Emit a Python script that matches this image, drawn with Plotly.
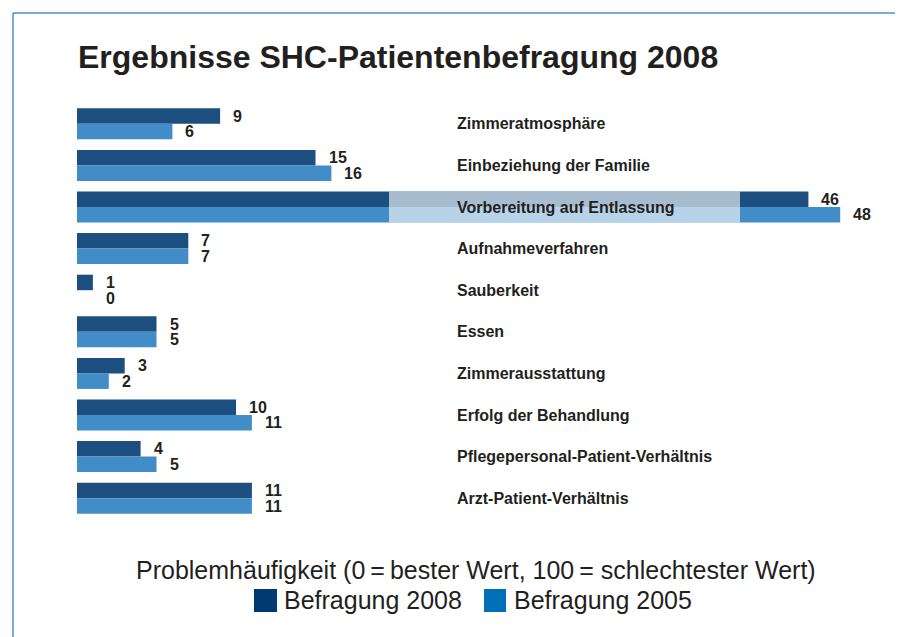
import plotly.graph_objects as go

categories = [
    "Zimmeratmosphäre",
    "Einbeziehung der Familie",
    "Vorbereitung auf Entlassung",
    "Aufnahmeverfahren",
    "Sauberkeit",
    "Essen",
    "Zimmerausstattung",
    "Erfolg der Behandlung",
    "Pflegepersonal-Patient-Verhältnis",
    "Arzt-Patient-Verhältnis",
]
values_2008 = [9, 15, 46, 7, 1, 5, 3, 10, 4, 11]
values_2005 = [6, 16, 48, 7, 0, 5, 2, 11, 5, 11]

title_text = "Ergebnisse SHC-Patientenbefragung 2008"
axis_note = "Problemhäufigkeit (0\u2009=\u2009bester Wert, 100\u2009= schlechtester Wert)"
series_names = ["Befragung 2008", "Befragung 2005"]

BAR_DARK = "#1c4f80"
BAR_LIGHT = "#428cc8"
LEG_DARK = "#003a70"
LEG_LIGHT = "#0070b8"
TXT = "#231f20"
FONT = "Liberation Sans, Arial, Helvetica, sans-serif"

# page body has an 8px margin, so the figure is drawn 8px in from the window corner
OFF = 8
W, H = 903 - OFF, 637 - OFF
ML, MR, MT, MB = 77 - OFF, 31, 103 - OFF, 118
PW, PH = 795, 416


def px(x):  # window pixel -> paper x
    return (x - 77) / PW


def py(y):  # window pixel -> paper y
    return (519 - y) / PH


fig = go.Figure()
fig.add_trace(go.Bar(y=categories, x=values_2008, orientation="h", name=series_names[0],
                     marker=dict(color=BAR_DARK, line=dict(width=0)), hoverinfo="x+y"))
fig.add_trace(go.Bar(y=categories, x=values_2005, orientation="h", name=series_names[1],
                     marker=dict(color=BAR_LIGHT, line=dict(width=0)), hoverinfo="x+y"))

shapes = []
annotations = []
half = 0.373
for i, cat in enumerate(categories):
    # translucent label backdrop
    shapes.append(dict(type="rect", xref="paper", yref="y", x0=px(389), x1=px(740),
                       y0=i - half, y1=i + half, fillcolor="rgba(255,255,255,0.62)",
                       line=dict(width=0), layer="above"))
    annotations.append(dict(xref="paper", yref="y", x=px(455), y=cat, text=cat,
                            xanchor="left", yanchor="middle", showarrow=False,
                            font=dict(family=FONT, size=16, color=TXT, weight="bold")))

for vals, ys in ((values_2008, 7.8), (values_2005, -7.8)):
    for cat, v in zip(categories, vals):
        annotations.append(dict(xref="x", yref="y", x=max(v, 1), y=cat, text=str(v),
                                xanchor="left", yanchor="middle", showarrow=False,
                                xshift=11, yshift=ys,
                                font=dict(family=FONT, size=16, color=TXT, weight="bold")))

# title
annotations.append(dict(xref="paper", yref="paper", x=px(76), y=py(57), text=title_text,
                        xanchor="left", yanchor="middle", showarrow=False,
                        font=dict(family=FONT, size=32, color=TXT, weight="bold")))
# axis note
annotations.append(dict(xref="paper", yref="paper", x=px(475.5), y=py(570), text=axis_note,
                        xanchor="center", yanchor="middle", showarrow=False,
                        font=dict(family=FONT, size=25, color=TXT)))
# legend
for (x0, x1, xt, col, name) in ((254, 277, 282, LEG_DARK, series_names[0]),
                                (484, 506, 512, LEG_LIGHT, series_names[1])):
    shapes.append(dict(type="rect", xref="paper", yref="paper", x0=px(x0), x1=px(x1),
                       y0=py(612), y1=py(589), fillcolor=col, line=dict(width=0)))
    annotations.append(dict(xref="paper", yref="paper", x=px(xt), y=py(600), text=name,
                            xanchor="left", yanchor="middle", showarrow=False,
                            font=dict(family=FONT, size=25, color=TXT)))

# frame
shapes.append(dict(type="line", xref="paper", yref="paper", x0=px(13), x1=px(905),
                   y0=py(13), y1=py(13), line=dict(color="#4a90cd", width=1.5)))
shapes.append(dict(type="line", xref="paper", yref="paper", x0=px(13), x1=px(13),
                   y0=py(13), y1=py(640), line=dict(color="#4a90cd", width=1.5)))

fig.update_layout(
    width=W, height=H,
    margin=dict(l=ML, r=MR, t=MT, b=MB, pad=0),
    paper_bgcolor="white", plot_bgcolor="white",
    barmode="group", bargap=0.255, bargroupgap=0,
    showlegend=False,
    xaxis=dict(range=[0, 50], visible=False, fixedrange=True),
    yaxis=dict(autorange="reversed", visible=False, fixedrange=True),
    shapes=shapes, annotations=annotations,
    font=dict(family=FONT, color=TXT),
)

fig.write_html("out.html")
